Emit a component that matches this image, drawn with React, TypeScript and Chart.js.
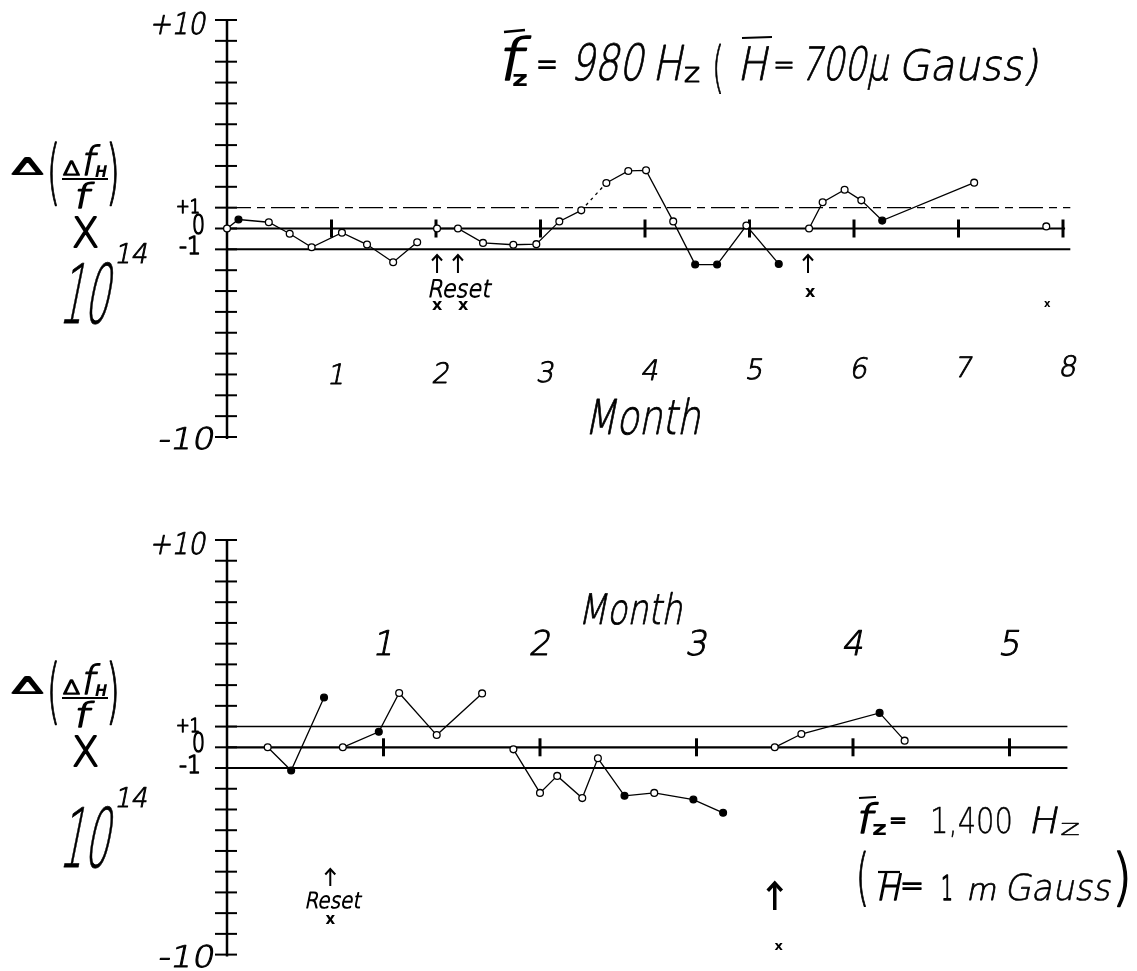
import React, { useEffect, useRef } from "react";
import { Chart, registerables } from "chart.js";
Chart.register(...registerables);

const FONT = '"DejaVu Sans", "Liberation Sans", sans-serif';

// ---------- shared axis data ----------
const yTickValues = [10, 9, 8, 7, 6, 5, 4, 3, 2, 1, 0, -1, -2, -3, -4, -5, -6, -7, -8, -9, -10];
const yLabelValues = [10, 1, 0, -1, -10];
const yLabelTexts = ["+10", "+1", "0", "-1", "-10"];

// ---------- top chart data (f = 980 Hz) ----------
const topMonthTicks = [1, 2, 3, 4, 5, 6, 7, 8];
const topMonthLabels = ["1", "2", "3", "4", "5", "6", "7", "8"];
const topSeg1Months = [0.0, 0.11, 0.4, 0.6, 0.81, 1.1, 1.34, 1.59, 1.82];
const topSeg1Values = [0, 0.43, 0.3, -0.25, -0.9, -0.2, -0.77, -1.62, -0.66];
const topSeg2Months = [2.01, 2.21, 2.45, 2.74, 2.96, 3.18, 3.39, 3.63, 3.84, 4.01, 4.27, 4.48, 4.69, 4.97, 5.28];
const topSeg2Values = [0, 0, -0.69, -0.78, -0.75, 0.34, 0.87, 2.18, 2.76, 2.79, 0.34, -1.73, -1.73, 0.14, -1.7];
const topSeg3Months = [5.57, 5.7, 5.91, 6.07, 6.27, 7.15];
const topSeg3Values = [0, 1.26, 1.86, 1.35, 0.38, 2.2];
const topLoneMonths = [7.84];
const topLoneValues = [0.1];
const topFilledMonths = [0.11, 4.48, 4.69, 5.28, 6.27];
const topDashedAfterMonths = [3.39];
const topArrowMonths = [2.01, 2.21, 5.56];
const topCrossMonths = [2.01, 2.26, 5.58];
const topTinyMarkMonths = [7.85];

// ---------- bottom chart data (f = 1,400 Hz) ----------
const bottomMonthTicks = [1, 2, 3, 4, 5];
const bottomMonthLabels = ["1", "2", "3", "4", "5"];
const botSegAMonths = [0.26, 0.41, 0.62];
const botSegAValues = [0, -1.12, 2.4];
const botSegBMonths = [0.74, 0.97, 1.1, 1.34, 1.63];
const botSegBValues = [0, 0.75, 2.62, 0.59, 2.6];
const botSegCMonths = [1.83, 2.0, 2.11, 2.27, 2.37, 2.54, 2.73, 2.98, 3.17];
const botSegCValues = [-0.1, -2.2, -1.38, -2.45, -0.53, -2.34, -2.2, -2.52, -3.16];
const botSegDMonths = [3.5, 3.67, 4.17, 4.33];
const botSegDValues = [0, 0.64, 1.66, 0.32];
const bottomFilledMonths = [0.41, 0.62, 0.97, 2.54, 2.98, 3.17, 4.17];
const bottomArrowMonths = [0.66, 3.5];

type TOpt = { align?: "left" | "center" | "right"; width?: number; italic?: boolean; weight?: string; sw?: number };

function txt(ctx: CanvasRenderingContext2D, s: string, x: number, y: number, size: number, o: TOpt = {}) {
  ctx.save();
  const weight = o.weight || "200";
  ctx.font = `${weight} ${size}px ${FONT}`;
  ctx.textBaseline = "alphabetic";
  ctx.textAlign = "left";
  ctx.fillStyle = "#000";
  ctx.strokeStyle = "#000";
  const w = ctx.measureText(s).width;
  const sx = o.width ? o.width / w : 1;
  const dw = w * sx;
  let left = x;
  if (o.align === "center") left = x - dw / 2;
  else if (o.align === "right") left = x - dw;
  ctx.translate(left, y);
  if (o.italic) ctx.transform(1, 0, -0.2, 1, 0, 0);
  ctx.scale(sx, 1);
  ctx.fillText(s, 0, 0);
  const sw = o.sw !== undefined ? o.sw : weight === "200" ? 0.5 : 0;
  if (sw > 0) {
    ctx.lineWidth = sw;
    ctx.lineJoin = "round";
    ctx.strokeText(s, 0, 0);
  }
  ctx.restore();
}

function line(ctx: CanvasRenderingContext2D, x1: number, y1: number, x2: number, y2: number, w: number, dash: number[] = []) {
  ctx.save();
  ctx.strokeStyle = "#000";
  ctx.lineWidth = w;
  ctx.setLineDash(dash);
  ctx.beginPath();
  ctx.moveTo(x1, y1);
  ctx.lineTo(x2, y2);
  ctx.stroke();
  ctx.restore();
}

function arrow(ctx: CanvasRenderingContext2D, x: number, yTail: number, yHead: number, w: number, head: number) {
  line(ctx, x, yTail, x, yHead, w);
  ctx.save();
  ctx.strokeStyle = "#000";
  ctx.lineWidth = w;
  ctx.beginPath();
  ctx.moveTo(x - head, yHead + head * 1.1);
  ctx.lineTo(x, yHead);
  ctx.lineTo(x + head, yHead + head * 1.1);
  ctx.stroke();
  ctx.restore();
}

function yTitle(ctx: CanvasRenderingContext2D, dy: number, dy10: number) {
  txt(ctx, "Δ", 12, 174 + dy, 22, { width: 31, sw: 2 });
  txt(ctx, "(", 47, 196 + dy, 72, { width: 13, sw: 1.4 });
  txt(ctx, ")", 106, 196 + dy, 72, { width: 14, sw: 1.4 });
  txt(ctx, "Δ", 63, 175 + dy, 20, { width: 17, sw: 1.5 });
  txt(ctx, "f", 80, 175 + dy, 40, { italic: true, width: 14, sw: 1.4 });
  txt(ctx, "H", 94, 177 + dy, 16, { italic: true, weight: "bold", width: 12 });
  line(ctx, 62, 179 + dy, 108, 179 + dy, 2);
  txt(ctx, "f", 73, 208 + dy, 34, { italic: true, width: 16, sw: 1.4 });
  txt(ctx, "X", 72, 247 + dy, 40, { width: 27, sw: 1.8 });
  txt(ctx, "10", 58, 323 + dy + dy10, 82, { italic: true, width: 50, sw: 0.8 });
  txt(ctx, "14", 114, 263 + dy + dy10, 27, { italic: true, width: 33, sw: 1 });
}

function drawYAxis(chart: any) {
  const ctx: CanvasRenderingContext2D = chart.ctx;
  const xs = chart.scales.x;
  const ys = chart.scales.y;
  const ax = xs.getPixelForValue(0);
  line(ctx, ax, ys.getPixelForValue(10) - 1, ax, ys.getPixelForValue(-10) + 2, 2.5);
  yTickValues.forEach((v) => {
    const y = ys.getPixelForValue(v);
    line(ctx, ax - 12, y, ax + 10, y, 2);
  });
}

function drawYLabels(chart: any) {
  const ctx: CanvasRenderingContext2D = chart.ctx;
  const ys = chart.scales.y;
  const xs = chart.scales.x;
  const ax = xs.getPixelForValue(0);
  yLabelValues.forEach((v, i) => {
    const y = ys.getPixelForValue(v);
    const s = yLabelTexts[i];
    if (v === 10) txt(ctx, s, ax - 22, y + 14, 30, { align: "right", width: 56, italic: true, sw: 1 });
    else if (v === -10) txt(ctx, s, ax - 14, y + 12, 30, { align: "right", width: 56, italic: true, sw: 1 });
    else if (v === 1) txt(ctx, s, ax - 27, y + 5, 19, { align: "right", width: 24, sw: 1.4 });
    else if (v === 0) txt(ctx, s, ax - 22, y + 5, 26, { align: "right", width: 13, sw: 1.4 });
    else txt(ctx, s, ax - 26, y + 5, 24, { align: "right", width: 22, sw: 1.4 });
  });
}

function seg(months: number[], values: number[], filled: number[], dashedAfter: number[] = []) {
  return {
    data: months.map((m, i) => ({ x: m, y: values[i] })),
    showLine: true,
    borderColor: "#000",
    borderWidth: 1.3,
    pointRadius: 3.4,
    pointBorderWidth: 1.3,
    pointBorderColor: "#000",
    pointBackgroundColor: (c: any) => (c.raw && filled.includes(c.raw.x) ? "#000" : "#fff"),
    tension: 0,
    clip: false as any,
    segment: {
      borderDash: (c: any) => (dashedAfter.includes(c.p0.parsed.x) ? [3, 4] : undefined),
    },
  };
}

function baseOptions(xMax: number, padding: any) {
  return {
    responsive: false,
    animation: false as const,
    devicePixelRatio: 1,
    layout: { padding },
    plugins: { legend: { display: false }, tooltip: { enabled: false }, title: { display: false } },
    scales: {
      x: { type: "linear" as const, min: 0, max: xMax, display: false },
      y: { type: "linear" as const, min: -10, max: 10, display: false },
    },
  };
}

const topPlugin = {
  id: "topDecor",
  beforeDatasetsDraw(chart: any) {
    const ctx: CanvasRenderingContext2D = chart.ctx;
    const xs = chart.scales.x;
    const ys = chart.scales.y;
    const ax = xs.getPixelForValue(0);
    const y0 = ys.getPixelForValue(0);
    const yp = ys.getPixelForValue(1);
    const ym = ys.getPixelForValue(-1);
    line(ctx, ax, yp, xs.getPixelForValue(8.07), yp, 1.4, [24, 6, 8, 6]);
    line(ctx, ax, ym, xs.getPixelForValue(8.07), ym, 2);
    line(ctx, ax, y0, xs.getPixelForValue(8.02), y0, 2.2);
    drawYAxis(chart);
    topMonthTicks.forEach((m) => {
      const x = xs.getPixelForValue(m);
      line(ctx, x, y0 - 9, x, y0 + 9, 3);
    });
  },
  afterDatasetsDraw(chart: any) {
    const ctx: CanvasRenderingContext2D = chart.ctx;
    const xs = chart.scales.x;
    drawYLabels(chart);
    yTitle(ctx, 0, 0);
    topMonthLabels.forEach((s, i) => {
      const x = xs.getPixelForValue(topMonthTicks[i]) + 4;
      txt(ctx, s, x, 384 - i * 1.2, 28, { align: "center", italic: true, sw: 0.9 });
    });
    txt(ctx, "Month", 642, 434, 48, { align: "center", italic: true, width: 116, sw: 0.8 });
    // title
    line(ctx, 504, 32, 525, 30, 2.5);
    txt(ctx, "f", 496, 80, 58, { italic: true, width: 26, sw: 1.5 });
    txt(ctx, "z", 512, 86, 22, { weight: "bold", width: 16 });
    txt(ctx, "=", 536, 76, 36, { width: 22, sw: 1.5 });
    txt(ctx, "980", 570, 80, 50, { italic: true, width: 73, sw: 0.8 });
    txt(ctx, "H", 652, 80, 48, { italic: true, width: 30, sw: 0.8 });
    txt(ctx, "z", 684, 82, 26, { width: 16, sw: 1.2 });
    txt(ctx, "(", 712, 86, 56, { width: 12, sw: 0.8 });
    txt(ctx, "H", 737, 80, 46, { italic: true, width: 30, sw: 0.8 });
    line(ctx, 742, 38, 772, 37, 2.2);
    txt(ctx, "=", 773, 76, 34, { width: 22, sw: 0.8 });
    txt(ctx, "700μ", 800, 80, 46, { italic: true, width: 88, sw: 0.8 });
    txt(ctx, "Gauss)", 898, 80, 42, { italic: true, width: 140, sw: 0.8 });
    // reset annotations
    topArrowMonths.forEach((m) => arrow(ctx, xs.getPixelForValue(m), 273, 255, 2, 5));
    txt(ctx, "Reset", 427, 297, 24, { italic: true, width: 63, sw: 1.1 });
    topCrossMonths.forEach((m, i) => {
      txt(ctx, "x", xs.getPixelForValue(m), i < 2 ? 310 : 297, 16, { align: "center", weight: "bold" });
    });
    topTinyMarkMonths.forEach((m) => txt(ctx, "x", xs.getPixelForValue(m), 307, 10, { align: "center", weight: "bold" }));
  },
};

const bottomPlugin = {
  id: "bottomDecor",
  beforeDatasetsDraw(chart: any) {
    const ctx: CanvasRenderingContext2D = chart.ctx;
    const xs = chart.scales.x;
    const ys = chart.scales.y;
    const ax = xs.getPixelForValue(0);
    const y0 = ys.getPixelForValue(0);
    const yp = ys.getPixelForValue(1);
    const ym = ys.getPixelForValue(-1);
    const xe = xs.getPixelForValue(5.37);
    line(ctx, ax, yp, xe, yp, 1.6);
    line(ctx, ax, ym, xe, ym, 2);
    line(ctx, ax, y0, xe, y0, 2.2);
    drawYAxis(chart);
    bottomMonthTicks.forEach((m) => {
      const x = xs.getPixelForValue(m);
      line(ctx, x, y0 - 9, x, y0 + 9, 3);
    });
  },
  afterDatasetsDraw(chart: any) {
    const ctx: CanvasRenderingContext2D = chart.ctx;
    const xs = chart.scales.x;
    drawYLabels(chart);
    yTitle(ctx, 19, 25);
    bottomMonthLabels.forEach((s, i) => {
      const x = xs.getPixelForValue(bottomMonthTicks[i]) - 1;
      txt(ctx, s, x, 155, 34, { align: "center", italic: true, sw: 1 });
    });
    txt(ctx, "Month", 578, 124, 42, { italic: true, width: 104, sw: 0.8 });
    // title
    line(ctx, 859, 298, 876, 297, 2.2);
    txt(ctx, "f", 855, 333, 40, { italic: true, width: 17, sw: 1.5 });
    txt(ctx, "z", 872, 335, 20, { weight: "bold", width: 15 });
    txt(ctx, "=", 889, 329, 28, { width: 18, sw: 1.5 });
    txt(ctx, "1,400", 930, 333, 36, { width: 83, sw: 0.4 });
    txt(ctx, "H", 1028, 333, 36, { italic: true, width: 29, sw: 0.8 });
    txt(ctx, "z", 1060, 335, 22, { width: 20, sw: 0.5 });
    txt(ctx, "(", 856, 398, 62, { width: 13, sw: 1.2 });
    txt(ctx, "H", 876, 400, 36, { italic: true, width: 24, sw: 1.5 });
    line(ctx, 878, 372, 900, 372, 2.2);
    txt(ctx, "=", 900, 396, 32, { width: 24, sw: 1.5 });
    txt(ctx, "1", 941, 400, 34, { width: 12, sw: 1.5 });
    txt(ctx, "m", 966, 400, 30, { italic: true, width: 30, sw: 0.8 });
    txt(ctx, "Gauss", 1004, 400, 36, { italic: true, width: 106, sw: 0.6 });
    txt(ctx, ")", 1112, 398, 62, { width: 20, sw: 1.6 });
    // reset annotations
    arrow(ctx, xs.getPixelForValue(bottomArrowMonths[0]), 386, 369, 2, 5);
    txt(ctx, "Reset", xs.getPixelForValue(bottomArrowMonths[0]) + 2, 408, 22, { align: "center", italic: true, width: 56, sw: 1.1 });
    txt(ctx, "x", xs.getPixelForValue(bottomArrowMonths[0]), 424, 15, { align: "center", weight: "bold" });
    arrow(ctx, xs.getPixelForValue(bottomArrowMonths[1]), 410, 383, 3.5, 7);
    txt(ctx, "x", xs.getPixelForValue(bottomArrowMonths[1]) + 4, 450, 13, { align: "center", weight: "bold" });
  },
};

function buildTop() {
  return {
    type: "scatter" as const,
    data: {
      datasets: [
        seg(topSeg1Months, topSeg1Values, topFilledMonths),
        seg(topSeg2Months, topSeg2Values, topFilledMonths, topDashedAfterMonths),
        seg(topSeg3Months, topSeg3Values, topFilledMonths),
        seg(topLoneMonths, topLoneValues, topFilledMonths),
      ],
    },
    options: baseOptions(888 / 104.5, { left: 227, right: 22, top: 20, bottom: 63 }),
    plugins: [topPlugin],
  };
}

function buildBottom() {
  return {
    type: "scatter" as const,
    data: {
      datasets: [
        seg(botSegAMonths, botSegAValues, bottomFilledMonths),
        seg(botSegBMonths, botSegBValues, bottomFilledMonths),
        seg(botSegCMonths, botSegCValues, bottomFilledMonths),
        seg(botSegDMonths, botSegDValues, bottomFilledMonths),
      ],
    },
    options: baseOptions(888 / 156.5, { left: 227, right: 22, top: 40, bottom: 16.4 }),
    plugins: [bottomPlugin],
  };
}

function ChartCanvas({ build, width, height }: { build: () => any; width: number; height: number }) {
  const ref = useRef<HTMLCanvasElement>(null);
  useEffect(() => {
    const chart = new Chart(ref.current as HTMLCanvasElement, build());
    return () => chart.destroy();
  }, []);
  return <canvas ref={ref} width={width} height={height} style={{ display: "block", width, height }} />;
}

export default function App() {
  useEffect(() => {
    document.body.style.margin = "0";
    document.body.style.background = "#fff";
  }, []);
  return (
    <div style={{ width: 1137, height: 971, background: "#fff" }}>
      <ChartCanvas build={buildTop} width={1137} height={500} />
      <ChartCanvas build={buildBottom} width={1137} height={471} />
    </div>
  );
}
